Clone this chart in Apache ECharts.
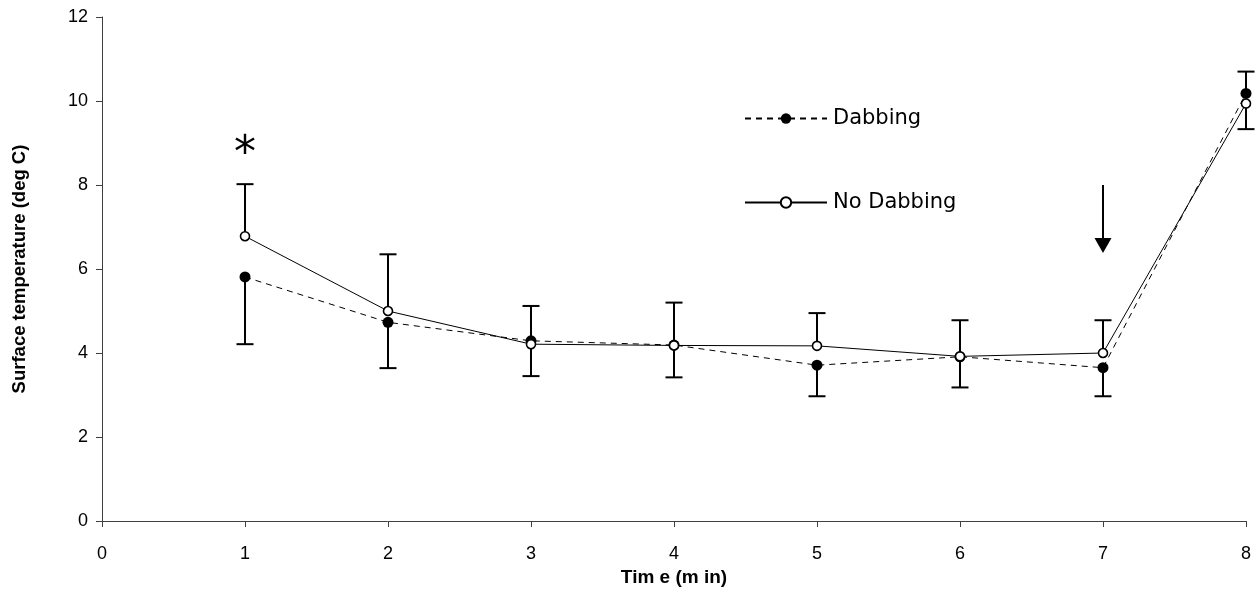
<!DOCTYPE html>
<html>
<head>
<meta charset="utf-8">
<script src="https://cdn.jsdelivr.net/npm/echarts@6/dist/echarts.min.js"></script>
<style>
html,body{margin:0;padding:0;background:#fff;}
#c{width:1259px;height:609px;}
</style>
</head>
<body>
<div id="c"></div>
<script>
// ---- data ----
const timePoints = [1, 2, 3, 4, 5, 6, 7, 8];
const dabbing = [5.81, 4.73, 4.29, 4.19, 3.71, 3.91, 3.65, 10.18];
const noDabbing = [6.78, 5.00, 4.21, 4.18, 4.17, 3.92, 4.00, 9.94];
// error bar ends: Dabbing has minus bars, No Dabbing has plus bars
const dabbingLower = [4.21, 3.64, 3.45, 3.42, 2.97, 3.18, 2.97, 9.33];
const noDabbingUpper = [8.02, 6.35, 5.12, 5.20, 4.95, 4.78, 4.78, 10.70];
const seriesNames = ['Dabbing', 'No Dabbing'];
const xTitle = 'Tim e (m in)';
const yTitle = 'Surface temperature (deg C)';
// annotations (data coordinates)
const asteriskPoint = [1, 8.95];
const arrowPoint = [7, 8.0, 6.38];

const FONT = '"Liberation Sans", Arial, sans-serif';

function errRender(params, api) {
  const x = api.value(0), from = api.value(1), to = api.value(2);
  const p0 = api.coord([x, from]);
  const p1 = api.coord([x, to]);
  const hw = 8.5;
  return {
    type: 'group',
    children: [
      { type: 'line', shape: { x1: p0[0], y1: p0[1], x2: p1[0], y2: p1[1] }, style: { stroke: '#000', lineWidth: 2 } },
      { type: 'line', shape: { x1: p1[0] - hw, y1: p1[1], x2: p1[0] + hw, y2: p1[1] }, style: { stroke: '#000', lineWidth: 2 } }
    ]
  };
}

function arrowRender(params, api) {
  const x = api.value(0);
  const top = api.coord([x, api.value(1)]);
  const tip = api.coord([x, api.value(2)]);
  const headH = 15, headW = 8.5;
  return {
    type: 'group',
    children: [
      { type: 'line', shape: { x1: top[0], y1: top[1], x2: tip[0], y2: tip[1] - headH + 1 }, style: { stroke: '#000', lineWidth: 2 } },
      { type: 'polygon', shape: { points: [[tip[0], tip[1]], [tip[0] - headW, tip[1] - headH], [tip[0] + headW, tip[1] - headH]] }, style: { fill: '#000' } }
    ]
  };
}

function asteriskRender(params, api) {
  const p = api.coord([api.value(0), api.value(1)]);
  return {
    type: 'text',
    style: { text: '*', x: p[0], y: p[1], fontSize: 44, fontFamily: '"DejaVu Sans", sans-serif', fill: '#000', align: 'center', verticalAlign: 'middle' },
    y: 10
  };
}

const chart = echarts.init(document.getElementById('c'), null, { renderer: 'canvas' });
chart.setOption({
  animation: false,
  backgroundColor: '#fff',
  grid: { left: 102, right: 13, top: 17, bottom: 88, containLabel: false },
  legend: {
    data: seriesNames,
    orient: 'vertical',
    left: 744,
    top: 108,
    padding: 0,
    itemWidth: 82,
    itemHeight: 13,
    itemGap: 63,
    textStyle: { fontSize: 21, fontFamily: '"DejaVu Sans", sans-serif', color: '#000', padding: [0, 0, 0, 1] },
    selectedMode: false
  },
  xAxis: {
    type: 'value', min: 0, max: 8, interval: 1,
    name: xTitle, nameLocation: 'middle', nameGap: 31,
    nameTextStyle: { fontSize: 19, fontWeight: 'bold', fontFamily: FONT, color: '#000' },
    axisLine: { show: true, lineStyle: { color: '#404040', width: 1 } },
    axisTick: { show: true, length: 6, lineStyle: { color: '#404040' } },
    axisLabel: { fontSize: 18, fontFamily: FONT, color: '#000', margin: 24 },
    splitLine: { show: false }
  },
  yAxis: {
    type: 'value', min: 0, max: 12, interval: 2,
    name: yTitle, nameLocation: 'middle', nameGap: 73, nameRotate: 90,
    nameTextStyle: { fontSize: 18.5, fontWeight: 'bold', fontFamily: FONT, color: '#000' },
    axisLine: { show: true, lineStyle: { color: '#404040', width: 1 } },
    axisTick: { show: true, length: 6, lineStyle: { color: '#404040' } },
    axisLabel: { fontSize: 18, fontFamily: FONT, color: '#000', margin: 14 },
    splitLine: { show: false }
  },
  series: [
    {
      name: 'errDab', type: 'custom', renderItem: errRender, z: 2,
      data: timePoints.map((t, i) => [t, dabbing[i], dabbingLower[i]])
    },
    {
      name: 'errNoDab', type: 'custom', renderItem: errRender, z: 2,
      data: timePoints.map((t, i) => [t, noDabbing[i], noDabbingUpper[i]])
    },
    {
      name: seriesNames[0], type: 'line', z: 3,
      data: timePoints.map((t, i) => [t, dabbing[i]]),
      symbol: 'circle', symbolSize: 11,
      itemStyle: { color: '#000' },
      lineStyle: { color: '#000', width: 1, type: [6, 5] }
    },
    {
      name: seriesNames[1], type: 'line', z: 4,
      data: timePoints.map((t, i) => [t, noDabbing[i]]),
      symbol: 'circle', symbolSize: 9,
      itemStyle: { color: '#fff', borderColor: '#000', borderWidth: 1.6 },
      lineStyle: { color: '#000', width: 1 }
    },
    {
      name: 'arrow', type: 'custom', renderItem: arrowRender, z: 5,
      data: [arrowPoint]
    },
    {
      name: 'asterisk', type: 'custom', renderItem: asteriskRender, z: 5,
      data: [asteriskPoint]
    }
  ]
});
</script>
</body>
</html>
